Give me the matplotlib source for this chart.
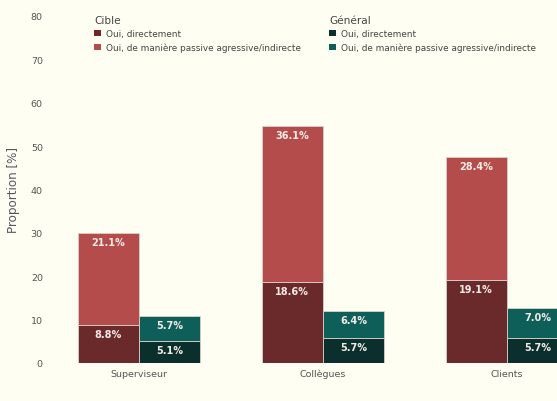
import matplotlib.pyplot as plt
from matplotlib.patches import Patch
import numpy as np

# data
categories = ["Superviseur", "Collègues", "Clients"]
cible_direct = [8.8, 18.6, 19.1]
cible_passive = [21.1, 36.1, 28.4]
general_direct = [5.1, 5.7, 5.7]
general_passive = [5.7, 6.4, 7.0]
serie_labels = ["Oui, directement", "Oui, de manière passive agressive/indirecte"]

bg = "#fefef2"
c_cd, c_cp = "#6a2a2b", "#b34c4b"
c_gd, c_gp = "#0a2f2c", "#0e5e5a"
edge = "#d9d2c4"

fig = plt.figure(figsize=(5.57, 4.02), dpi=100, facecolor=bg)
ax = fig.add_axes([47 / 557, 38 / 402, 552 / 557, 347 / 402], facecolor=bg)

x = np.arange(len(categories))
w = 0.334
xc = x - w / 2
xg = x + w / 2

b1 = ax.bar(xc, cible_direct, w, color=c_cd, edgecolor=edge, linewidth=0.6)
b2 = ax.bar(xc, cible_passive, w, bottom=cible_direct, color=c_cp, edgecolor=edge, linewidth=0.6)
b3 = ax.bar(xg, general_direct, w, color=c_gd, edgecolor=edge, linewidth=0.6)
b4 = ax.bar(xg, general_passive, w, bottom=general_direct, color=c_gp, edgecolor=edge, linewidth=0.6)

# value labels at the top inside each segment
for bars, vals in [(b1, cible_direct), (b2, cible_passive), (b3, general_direct), (b4, general_passive)]:
    for rect, v in zip(bars, vals):
        top = rect.get_y() + rect.get_height()
        ax.annotate(f"{v:.1f}%", (rect.get_x() + rect.get_width() / 2, top),
                    xytext=(0, -3), textcoords="offset points",
                    ha="center", va="top", fontsize=7, fontweight="bold", color="#f3ebe6")

ax.set_xlim(-0.5, 2.5)
ax.set_ylim(0, 80)
ax.set_yticks(range(0, 81, 10))
ax.set_xticks(x)
ax.set_xticklabels(categories)
ax.tick_params(axis="both", length=0, labelsize=6.8, labelcolor="#555555")
ax.tick_params(axis="y", pad=3)
ax.tick_params(axis="x", pad=4)
for s in ax.spines.values():
    s.set_visible(False)
ax.set_ylabel("Proportion [%]", fontsize=8.6, color="#555566", labelpad=8)

# legends
h_c = [Patch(facecolor=c_cd), Patch(facecolor=c_cp)]
h_g = [Patch(facecolor=c_gd), Patch(facecolor=c_gp)]
common = dict(frameon=False, fontsize=6.4, title_fontsize=7.6, alignment="left",
              handlelength=0.7, handleheight=0.7, handletextpad=0.6,
              labelspacing=0.45, borderpad=0, loc="upper left")
leg1 = fig.legend(h_c, serie_labels, title="Cible", bbox_to_anchor=(90 / 557, 1 - 12 / 402), **common)
leg2 = fig.legend(h_g, serie_labels, title="Général", bbox_to_anchor=(325 / 557, 1 - 12 / 402), **common)
for leg in (leg1, leg2):
    leg.get_title().set_color("#444444")
    for t in leg.get_texts():
        t.set_color("#444444")

plt.savefig("out.png", dpi=100, facecolor=bg)
